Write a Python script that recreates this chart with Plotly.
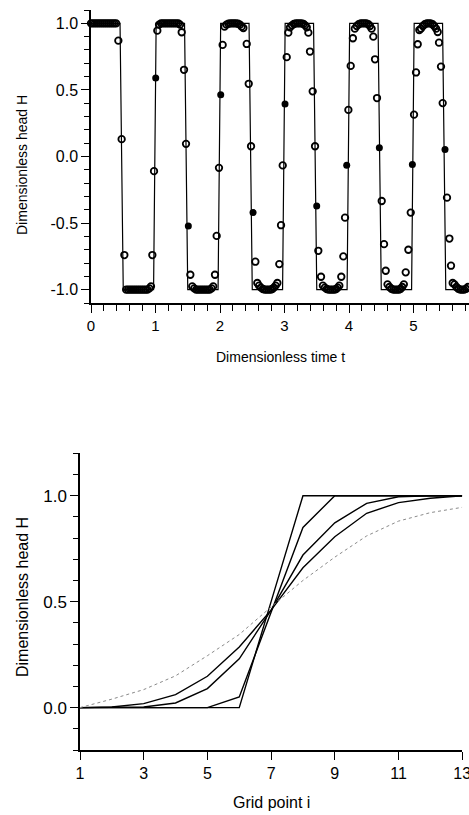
import plotly.graph_objects as go

# ---------------- Top panel data ----------------
# analytic square wave (solid line)
wave_t = [0.0, 0.45, 0.50, 0.97, 1.01, 1.45, 1.50, 1.97, 2.01, 2.45, 2.50, 2.97, 3.01,
          3.45, 3.50, 3.97, 4.01, 4.45, 4.50, 4.97, 5.01, 5.45, 5.50, 5.95]
wave_h = [1, 1, -1, -1, 1, 1, -1, -1, 1, 1, -1, -1, 1,
          1, -1, -1, 1, 1, -1, -1, 1, 1, -1, -1]

# numerical solution, open circles
open_t = [
    0.00, 0.03, 0.06, 0.09, 0.12, 0.15, 0.18, 0.21, 0.24, 0.27, 0.30, 0.33, 0.36, 0.39,
    0.424, 0.475, 0.517,
    0.545, 0.575, 0.605, 0.635, 0.665, 0.695, 0.725, 0.755, 0.785, 0.815, 0.845, 0.875, 0.905, 0.93,
    0.951, 0.977, 1.028,
    1.055, 1.085, 1.115, 1.145, 1.175, 1.205, 1.235, 1.265, 1.295, 1.325, 1.355, 1.38,
    1.406, 1.442, 1.473, 1.54,
    1.57, 1.60, 1.63, 1.66, 1.69, 1.72, 1.75, 1.78, 1.81, 1.84, 1.87, 1.895,
    1.922, 1.948, 1.984, 2.041,
    2.07, 2.10, 2.13, 2.16, 2.19, 2.22, 2.25, 2.28, 2.31, 2.335,
    2.362, 2.414, 2.445, 2.481, 2.548, 2.578,
    2.605, 2.635, 2.665, 2.695, 2.725, 2.755, 2.785, 2.81, 2.835, 2.862,
    2.889, 2.919, 2.946, 2.972, 3.034, 3.059,
    3.085, 3.115, 3.145, 3.175, 3.205, 3.235, 3.265, 3.295, 3.32, 3.345,
    3.37, 3.395, 3.437, 3.473, 3.524, 3.566,
    3.595, 3.625, 3.655, 3.685, 3.715, 3.745, 3.775, 3.80, 3.825, 3.85,
    3.88, 3.912, 3.938, 3.99, 4.026, 4.06,
    4.09, 4.12, 4.15, 4.18, 4.21, 4.24, 4.27, 4.30, 4.325, 4.35,
    4.377, 4.403, 4.434, 4.507, 4.543, 4.569,
    4.597, 4.627, 4.657, 4.687, 4.717, 4.747, 4.777, 4.80, 4.825, 4.85,
    4.879, 4.92, 4.957, 5.008, 5.039, 5.065, 5.09,
    5.115, 5.145, 5.175, 5.205, 5.235, 5.265, 5.295, 5.32, 5.35,
    5.375, 5.395, 5.426, 5.452, 5.519, 5.556, 5.581, 5.607,
    5.635, 5.665, 5.695, 5.725, 5.755, 5.785, 5.815, 5.845, 5.87,
]
open_h = [
    1.0, 1.0, 1.0, 1.0, 1.0, 1.0, 1.0, 1.0, 1.0, 1.0, 1.0, 1.0, 1.0, 1.0,
    0.87, 0.13, -0.74,
    -1.0, -1.0, -1.0, -1.0, -1.0, -1.0, -1.0, -1.0, -1.0, -1.0, -1.0, -1.0, -0.99, -0.975,
    -0.74, -0.11, 0.945,
    0.99, 1.0, 1.0, 1.0, 1.0, 1.0, 1.0, 1.0, 1.0, 1.0, 1.0, 0.99,
    0.933, 0.651, 0.095, -0.888,
    -0.975, -0.99, -1.0, -1.0, -1.0, -1.0, -1.0, -1.0, -1.0, -1.0, -0.99, -0.975,
    -0.888, -0.596, -0.085, 0.838,
    0.975, 0.99, 0.997, 1.0, 1.0, 1.0, 1.0, 0.997, 0.99, 0.975,
    0.965, 0.845, 0.546, 0.077, -0.79, -0.95,
    -0.97, -0.985, -0.995, -1.0, -1.0, -1.0, -1.0, -0.995, -0.985, -0.97,
    -0.95, -0.808, -0.516, -0.067, 0.746, 0.93,
    0.97, 0.985, 0.995, 1.0, 1.0, 1.0, 1.0, 0.995, 0.985, 0.97,
    0.93, 0.788, 0.489, 0.077, -0.708, -0.903,
    -0.97, -0.985, -0.995, -1.0, -1.0, -1.0, -1.0, -0.995, -0.985, -0.97,
    -0.903, -0.75, -0.459, 0.35, 0.68, 0.888,
    0.96, 0.98, 0.993, 1.0, 1.0, 1.0, 1.0, 0.993, 0.98, 0.96,
    0.90, 0.73, 0.439, -0.334, -0.658, -0.858,
    -0.96, -0.98, -0.993, -1.0, -1.0, -1.0, -1.0, -0.993, -0.98, -0.96,
    -0.87, -0.70, -0.421, 0.314, 0.631, 0.843, 0.95,
    0.96, 0.98, 0.993, 1.0, 1.0, 1.0, 0.993, 0.98, 0.96,
    0.935, 0.855, 0.675, 0.401, -0.309, -0.616, -0.82, -0.95,
    -0.96, -0.98, -0.993, -1.0, -1.0, -1.0, -0.993, -0.98, -0.96,
]

# numerical solution, filled circles
filled_t = [1.003, 1.509, 2.011, 2.512, 3.008, 3.499, 3.964, 4.47, 4.982, 5.488]
filled_h = [0.59, -0.521, 0.464, -0.421, 0.394, -0.371, -0.065, 0.065, -0.06, 0.052]

# ---------------- Bottom panel data ----------------
grid_i = [1, 2, 3, 4, 5, 6, 7, 8, 9, 10, 11, 12, 13]
prof_a = [0, 0, 0, 0, 0, 0, 0.5, 1, 1, 1, 1, 1, 1]
prof_b = [0, 0, 0, 0, 0, 0.05, 0.45, 0.85, 1, 1, 1, 1, 1]
prof_c = [0, 0, 0.003, 0.022, 0.09, 0.23, 0.46, 0.72, 0.872, 0.964, 0.995, 1, 1]
prof_d = [0, 0.003, 0.019, 0.061, 0.148, 0.286, 0.46, 0.66, 0.806, 0.917, 0.967, 0.988, 1]
prof_e = [0, 0.04, 0.085, 0.15, 0.245, 0.345, 0.475, 0.60, 0.71, 0.81, 0.88, 0.92, 0.945]

top_ytick_vals = [-1.0, -0.5, 0.0, 0.5, 1.0]
top_ytick_text = ["-1.0", "-0.5", "0.0", "0.5", "1.0"]
top_xtick_vals = [0, 1, 2, 3, 4, 5]
bot_ytick_vals = [0.0, 0.5, 1.0]
bot_ytick_text = ["0.0", "0.5", "1.0"]
bot_xtick_vals = [1, 3, 5, 7, 9, 11, 13]

W, H = 469, 815
FONT = "Liberation Sans, Arial, Helvetica, sans-serif"

fig = go.Figure()

fig.add_trace(go.Scatter(x=wave_t, y=wave_h, mode="lines",
                         line=dict(color="black", width=1.2),
                         xaxis="x", yaxis="y", showlegend=False))
fig.add_trace(go.Scatter(x=open_t, y=open_h, mode="markers",
                         marker=dict(symbol="circle-open", size=6.5, color="black",
                                     line=dict(width=1.8, color="black")),
                         cliponaxis=False, xaxis="x", yaxis="y", showlegend=False))
fig.add_trace(go.Scatter(x=filled_t, y=filled_h, mode="markers",
                         marker=dict(symbol="circle", size=7, color="black"),
                         cliponaxis=False, xaxis="x", yaxis="y", showlegend=False))

for prof in [prof_a, prof_b, prof_c, prof_d]:
    fig.add_trace(go.Scatter(x=grid_i, y=prof, mode="lines",
                             line=dict(color="black", width=1.4),
                             xaxis="x2", yaxis="y2", showlegend=False))
fig.add_trace(go.Scatter(x=grid_i, y=prof_e, mode="lines",
                         line=dict(color="#8a8a8a", width=1, dash="dot"),
                         xaxis="x2", yaxis="y2", showlegend=False))

def px_x(p):
    return p / W

def px_y(p):
    return 1 - p / H

def axis_common(size):
    return dict(showline=True, linecolor="black", linewidth=1.5, showgrid=False,
                zeroline=False, ticks="outside", tickcolor="black", tickwidth=1.3,
                automargin=False, ticklabeloverflow="allow",
                tickfont=dict(family=FONT, size=size, color="black"))

def title(text, x, y, size, angle=0):
    return dict(text=text, x=px_x(x), y=px_y(y), xref="paper", yref="paper",
                xanchor="center", yanchor="middle", textangle=angle,
                showarrow=False, font=dict(family=FONT, size=size, color="black"))

fig.update_layout(
    width=W, height=H, margin=dict(l=0, r=0, t=0, b=0),
    paper_bgcolor="white", plot_bgcolor="white",
    xaxis=dict(domain=[px_x(91), 1.0], range=[0, 5.86], anchor="y",
               tickmode="array", tickvals=top_xtick_vals, ticklen=8,
               minor=dict(dtick=0.2, tick0=0, ticks="outside", ticklen=6,
                          tickcolor="black", tickwidth=1.2),
               **axis_common(15)),
    yaxis=dict(domain=[px_y(303), px_y(10)], range=[-1.1, 1.1], anchor="x",
               tickmode="array", tickvals=top_ytick_vals, ticktext=top_ytick_text,
               ticklen=8,
               minor=dict(dtick=0.1, tick0=0, ticks="outside", ticklen=5,
                          tickcolor="black", tickwidth=1.2),
               **axis_common(16)),
    xaxis2=dict(domain=[px_x(80), px_x(462.2)], range=[1, 13], anchor="y2",
                tickmode="array", tickvals=bot_xtick_vals, ticklen=8,
                **axis_common(16)),
    yaxis2=dict(domain=[px_y(750), px_y(453.3)], range=[-0.2, 1.2], anchor="x2",
                tickmode="array", tickvals=bot_ytick_vals, ticktext=bot_ytick_text,
                ticklen=8,
                minor=dict(dtick=0.1, tick0=0, ticks="outside", ticklen=5,
                           tickcolor="black", tickwidth=1.2),
                **axis_common(17)),
    annotations=[
        title("Dimensionless head H", 22, 165, 14, -90),
        title("Dimensionless time t", 280, 357, 14),
        title("Dimensionless head H", 22, 597, 16, -90),
        title("Grid point i", 271, 802, 16),
    ],
)

fig.write_html("out.html",
               config={"displayModeBar": False},
               post_script="document.body.style.margin='0';document.body.style.overflow='hidden';")
